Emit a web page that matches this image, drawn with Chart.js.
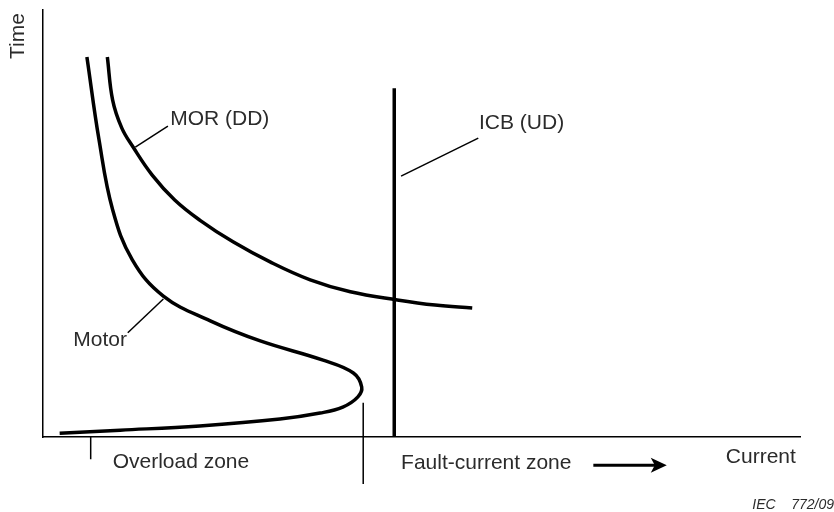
<!DOCTYPE html>
<html>
<head>
<meta charset="utf-8">
<script src="https://cdn.jsdelivr.net/npm/chart.js@4"></script>
<style>
  html, body { margin: 0; padding: 0; background: #fff; }
  #wrap { width: 834px; height: 512px; }
</style>
</head>
<body>
<div id="wrap"><canvas id="chart"></canvas></div>
<script>
// curve data, arbitrary units (current 0-100, time 0-100)
const motorCurrent = [5.8, 7.4, 9.2, 11.8, 15.9, 22.1, 28.7, 37.0, 41.0, 42.1, 41.6, 39.6, 36.6, 31.3, 20.7, 10.2, 2.2];
const motorTime    = [89.0, 69.6, 53.2, 41.5, 33.0, 27.2, 22.5, 18.0, 15.0, 11.7, 9.4, 7.0, 5.6, 4.2, 2.6, 1.6, 0.9];

const morCurrent = [8.5, 9.2, 10.4, 11.9, 14.4, 17.4, 20.7, 25.1, 30.0, 35.3, 40.6, 46.8, 51.8, 56.7];
const morTime    = [89.0, 78.9, 72.4, 67.9, 61.4, 55.5, 50.8, 45.7, 41.0, 36.8, 34.0, 32.1, 30.9, 30.2];

const icbCurrent = [46.4, 46.4];
const icbTime    = [0, 81.7];

// zone boundary marks below the current axis
const overloadMarkX = [6.3, 6.3];
const overloadMarkY = [0, -5.2];
const faultMarkX = [42.3, 42.3];
const faultMarkY = [8.0, -11.0];

// leader lines from labels to curves
const morLeaderX = [12.2, 16.5];
const morLeaderY = [67.9, 72.8];
const icbLeaderX = [47.3, 57.5];
const icbLeaderY = [61.1, 70.0];
const motorLeaderX = [15.9, 11.2];
const motorLeaderY = [32.3, 24.4];

// arrow after "Fault-current zone"
const arrowX = [72.7, 82.4];
const arrowY = [-6.6, -6.6];

const toPoints = (xs, ys) => xs.map((x, i) => ({ x: x, y: ys[i] }));

// text labels (anchor in axis units)
const notes = [
  { text: 'Time', x: -3.3, y: 93.9, rotate: true },
  { text: 'MOR (DD)', x: 16.8, y: 74.5 },
  { text: 'ICB (UD)', x: 57.6, y: 73.5 },
  { text: 'Motor', x: 4.0, y: 22.7 },
  { text: 'Overload zone', x: 9.2, y: -5.9 },
  { text: 'Fault-current zone', x: 47.3, y: -6.1 },
  { text: 'Current', x: 90.2, y: -4.7 },
  { text: '772/09', x: 104.5, y: -15.9, small: true, align: 'right' },
  { text: 'IEC', x: 93.7, y: -15.9, small: true }
];

const labelPlugin = {
  id: 'labels',
  afterDraw(chart) {
    const ctx = chart.ctx;
    const xs = chart.scales.x, ys = chart.scales.y;
    ctx.save();
    ctx.fillStyle = '#2b2b2b';
    ctx.textBaseline = 'middle';
    notes.forEach(n => {
      const px = xs.getPixelForValue(n.x);
      const py = ys.getPixelForValue(n.y);
      ctx.font = n.small ? 'italic 14px "Liberation Sans", Arial, sans-serif' : '21px "Liberation Sans", Arial, sans-serif';
      if (n.rotate) {
        ctx.save();
        ctx.translate(px, py);
        ctx.rotate(-Math.PI / 2);
        ctx.textAlign = 'center';
        ctx.fillText(n.text, 0, 0);
        ctx.restore();
      } else {
        ctx.textAlign = n.align || 'left';
        ctx.fillText(n.text, px, py);
      }
    });

    // arrow head at the end of the arrow line (outside chart area, points would be skipped)
    const tipX = xs.getPixelForValue(arrowX[1]);
    const tipY = ys.getPixelForValue(arrowY[1]);
    ctx.fillStyle = '#000';
    ctx.beginPath();
    ctx.moveTo(tipX, tipY);
    ctx.lineTo(tipX - 16, tipY - 7.5);
    ctx.lineTo(tipX - 12, tipY);
    ctx.lineTo(tipX - 16, tipY + 7.5);
    ctx.closePath();
    ctx.fill();
    ctx.restore();
  }
};

const thin = (data) => ({
  data: data, showLine: true, borderColor: '#000', borderWidth: 1.5,
  pointRadius: 0, tension: 0, clip: false
});

new Chart(document.getElementById('chart'), {
  type: 'scatter',
  data: {
    datasets: [
      { label: 'Motor', data: toPoints(motorCurrent, motorTime), showLine: true, borderColor: '#000',
        borderWidth: 3.5, pointRadius: 0, tension: 0.4, clip: false },
      { label: 'MOR (DD)', data: toPoints(morCurrent, morTime), showLine: true, borderColor: '#000',
        borderWidth: 3.5, pointRadius: 0, tension: 0.4, clip: false },
      { label: 'ICB (UD)', data: toPoints(icbCurrent, icbTime), showLine: true, borderColor: '#000',
        borderWidth: 3.5, pointRadius: 0, tension: 0, clip: false },
      thin(toPoints(overloadMarkX, overloadMarkY)),
      thin(toPoints(faultMarkX, faultMarkY)),
      thin(toPoints(morLeaderX, morLeaderY)),
      thin(toPoints(icbLeaderX, icbLeaderY)),
      thin(toPoints(motorLeaderX, motorLeaderY)),
      { data: toPoints(arrowX.map((x, i) => i === 1 ? x - 1.2 : x), arrowY), showLine: true,
        borderColor: '#000', borderWidth: 3, pointRadius: 0, tension: 0, clip: false }
    ]
  },
  options: {
    responsive: true,
    maintainAspectRatio: false,
    animation: false,
    layout: { padding: { left: 43, top: 10, right: 34, bottom: 75 } },
    scales: {
      x: {
        type: 'linear', min: 0, max: 100,
        grid: { display: false, drawTicks: false },
        ticks: { display: false },
        border: { color: '#000', width: 1.5 }
      },
      y: {
        type: 'linear', min: 0, max: 100,
        grid: { display: false, drawTicks: false },
        ticks: { display: false },
        border: { color: '#000', width: 1.5 }
      }
    },
    plugins: {
      legend: { display: false },
      tooltip: { enabled: false }
    }
  },
  plugins: [labelPlugin]
});
</script>
</body>
</html>
